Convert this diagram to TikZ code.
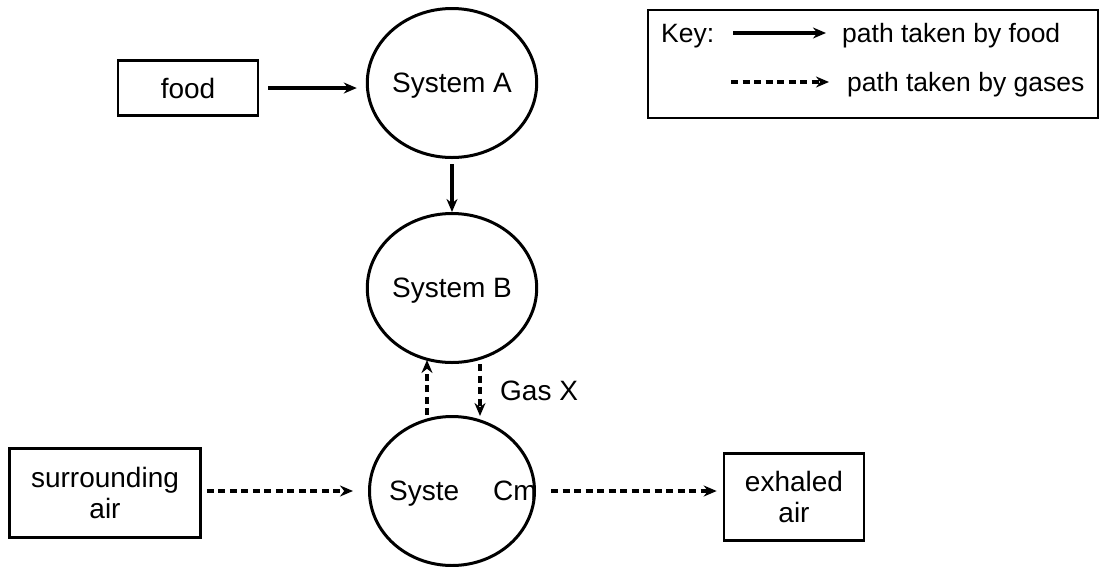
\documentclass[tikz,border=0pt]{standalone}
\usepackage{fontspec}
\setmainfont{Liberation Sans}
\usetikzlibrary{shapes.geometric,arrows.meta,calc}
\begin{document}
\begin{tikzpicture}[x=1pt,y=-1pt,
  every node/.style={font=\fontsize{28}{31}\selectfont},
  keyfont/.style={font=\fontsize{26.5}{30}\selectfont},
  sys/.style={draw,ellipse,line width=3pt,minimum width=165pt,minimum height=149pt,inner sep=0pt,text depth=0pt},
  box/.style={draw,line width=2.6pt,inner sep=0pt,align=center},
  food/.style={line width=3.4pt,-{Stealth[length=13pt,width=11pt]}},
  gas/.style={line width=3.4pt,dash pattern=on 7pt off 4.5pt,-{Stealth[length=13pt,width=11pt]}},
  lbl/.style={anchor=west,inner sep=0pt}]
\useasboundingbox (0,0) rectangle (1104,566);
% systems
\node[sys] (A) at (452,83) {System A};
\node[sys] (B) at (452,288) {System B};
\node[sys] (C) at (452,491) {\makebox[100pt][c]{\hspace{22pt}Syste\hspace{34pt}Cm}};
% boxes
\node[box,minimum width=140pt,minimum height=55pt] (food) at (188,88) {food};
\node[box,minimum width=191pt,minimum height=89pt] (air) at (105,493) {surrounding\\air};
\node[box,minimum width=140pt,minimum height=87pt] (exh) at (794,497) {exhaled\\air};
% connectors
\draw[food,shorten <=9pt,shorten >=9pt] (food.east) -- (food.east -| A.west);
\draw[food,shorten <=5pt] (A.south) -- (B.north);
\draw[gas] ([xshift=-25pt]C.north) -- ([xshift=-25pt,yshift=4pt]B.south);
\draw[gas,shorten <=3pt] ([xshift=28pt,yshift=3pt]B.south) -- ([xshift=28pt,yshift=-1pt]C.north);
\node[lbl] (gasx) at (500,391) {Gas X};
\draw[gas,shorten <=5pt,shorten >=15pt] (air.east |- C.west) -- (C.west);
\draw[gas,shorten <=15pt,shorten >=6pt] (C.east) -- (exh.west |- C.east);
% key
\node[draw,line width=2.6pt,minimum width=450pt,minimum height=108pt,inner sep=0pt] (key) at (873,64) {};
\node[lbl,keyfont] (keyt) at (661,36) {Key:};
\coordinate (k1s) at (733,33);
\coordinate (k1e) at (826,33);
\coordinate (k2s) at (731,82);
\coordinate (k2e) at (829,82);
\draw[food] (k1s) -- (k1e);
\draw[gas] (k2s) -- (k2e);
\node[lbl,keyfont] (kf) at (842,36) {path taken by food};
\node[lbl,keyfont] (kg) at (847,85) {path taken by gases};
\end{tikzpicture}
\end{document}
